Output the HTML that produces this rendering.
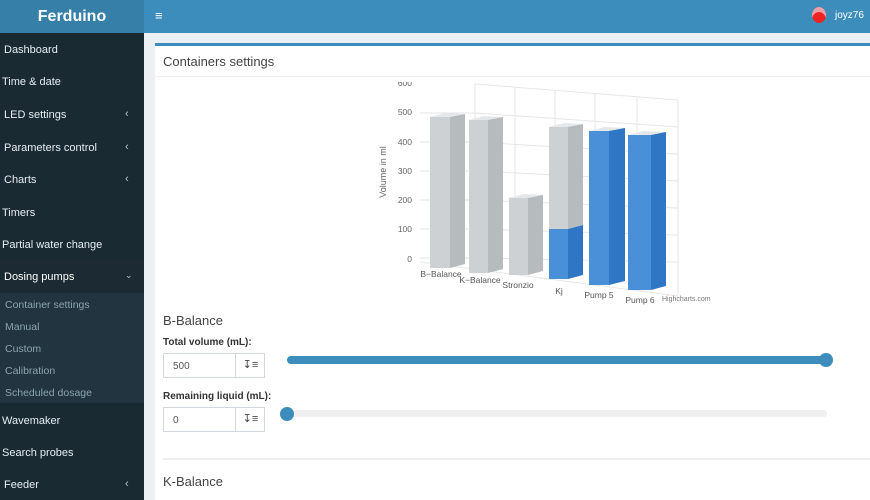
<!DOCTYPE html>
<html><head><meta charset="utf-8">
<style>
*{box-sizing:border-box;margin:0;padding:0}
body{width:870px;height:500px;overflow:hidden;font-family:"Liberation Sans",sans-serif;background:#ecf0f5;position:relative}
.logo{position:absolute;left:0;top:0;width:144px;height:33px;background:#367fa9;color:#fff;font-weight:bold;font-size:16px;text-align:center;line-height:33px}
.top{position:absolute;left:144px;top:0;right:0;height:33px;background:#3c8dbc;color:#fff}
.side{position:absolute;left:0;top:33px;width:144px;bottom:0;background:#1a2a33}
.it{position:absolute;left:4px;color:#e6eef2;font-size:11px}
.sub{position:absolute;left:5px;color:#8aa4af;font-size:10.5px}
.chev{position:absolute;left:125px;color:#b8c7ce;font-size:11px}
.box{position:absolute;left:155px;top:43px;width:715px;bottom:0;background:#fff;border-top:3px solid #3c8dbc}
.lbl{position:absolute;font-size:10px;font-weight:bold;color:#333}
.inp{position:absolute;left:163px;width:102px;height:25px;border:1px solid #d2d6de;font-size:10px;color:#555;padding:7px 9px}
.inp span{position:absolute;left:71px;top:-1px;width:30px;height:25px;border-left:1px solid #d2d6de;text-align:center;line-height:24px;font-size:11px;color:#444}
</style></head><body>
<div class="logo">Ferduino</div>
<div class="top"><div style="position:absolute;left:11px;top:8px;font-size:13px">&#8801;</div>
<div style="position:absolute;left:668px;top:7px;width:14px;height:16px;border-radius:50%;background:#e22;box-shadow:inset 0 5px 0 #e9a0a8"></div>
<div style="position:absolute;left:691px;top:10px;font-size:10px">joyz76</div></div>
<div class="side">
<div class="it" style="top:11px">Dashboard</div>
<div class="it" style="top:43px;left:2px">Time &amp; date</div>
<div class="it" style="top:76px">LED settings</div><div class="chev" style="top:75px">&#8249;</div>
<div class="it" style="top:109px">Parameters control</div><div class="chev" style="top:108px">&#8249;</div>
<div class="it" style="top:141px">Charts</div><div class="chev" style="top:140px">&#8249;</div>
<div class="it" style="top:174px;left:2px">Timers</div>
<div class="it" style="top:206px;left:2px">Partial water change</div>
<div style="position:absolute;left:0;top:227px;width:144px;height:33px;background:#1c2b33"></div>
<div class="it" style="top:238px;color:#fff">Dosing pumps</div><div class="chev" style="top:237px;font-size:9px">&#8964;</div>
<div style="position:absolute;left:0;top:260px;width:144px;height:110px;background:#223440"></div>
<div class="sub" style="top:266px">Container settings</div>
<div class="sub" style="top:288px">Manual</div>
<div class="sub" style="top:310px">Custom</div>
<div class="sub" style="top:332px">Calibration</div>
<div class="sub" style="top:354px">Scheduled dosage</div>
<div class="it" style="top:382px;left:2px">Wavemaker</div>
<div class="it" style="top:414px;left:2px">Search probes</div>
<div class="it" style="top:446px">Feeder</div><div class="chev" style="top:445px">&#8249;</div>
</div>
<div class="box">
<div style="position:absolute;left:8px;top:8px;font-size:13px;color:#444">Containers settings</div>
<div style="position:absolute;left:0;right:0;top:30px;border-top:1px solid #f0f0f0"></div>
</div>
<svg style="position:absolute;left:0;top:0" width="870" height="500" font-family="Liberation Sans,sans-serif">
<defs><clipPath id="c"><rect x="300" y="82" width="500" height="230"/></clipPath></defs>
<g clip-path="url(#c)">
<g stroke="#e6e6e6" stroke-width="1" fill="none">
<path d="M475 84 L678 100 M475 113 L678 127 M475 142 L678 154 M475 171 L678 181 M475 200 L678 208 M475 229 L678 235 M475 258 L678 262"/>
<path d="M475 84 V258 M515 87 V262 M555 91 V265 M595 94 V268 M637 97 V272 M678 100 V295"/>
<path d="M420 113 L475 113 M420 142 L475 142 M420 171 L475 171 M420 200 L475 200 M420 229 L475 229 M420 258 L475 258"/>
<path d="M420 262 L678 296"/>
</g>
<g font-size="8.5" fill="#666" text-anchor="end">
<text x="412" y="86">600</text><text x="412" y="115">500</text><text x="412" y="145">400</text><text x="412" y="174">300</text><text x="412" y="203">200</text><text x="412" y="232">100</text><text x="412" y="262">0</text>
</g>
</g>
<text transform="translate(386,172) rotate(-90)" font-size="9" fill="#666" text-anchor="middle">Volume in ml</text>
<g>
<polygon points="430,117 450,117 465,114 445,113" fill="#e4e8eb"/>
<rect x="430" y="117" width="20" height="151" fill="#cdd1d4"/>
<polygon points="450,117 465,114 465,264 450,268" fill="#b6bbbe"/>
<polygon points="469,120 488,120 503,117 484,116" fill="#e4e8eb"/>
<rect x="469" y="120" width="19" height="153" fill="#cdd1d4"/>
<polygon points="488,120 503,117 503,269 488,273" fill="#b6bbbe"/>
<polygon points="509,198 528,198 543,195 524,194" fill="#e4e8eb"/>
<rect x="509" y="198" width="19" height="77" fill="#cdd1d4"/>
<polygon points="528,198 543,195 543,271 528,275" fill="#b6bbbe"/>
<polygon points="549,127 568,127 583,124 564,123" fill="#e4e8eb"/>
<rect x="549" y="127" width="19" height="102" fill="#cdd1d4"/>
<polygon points="568,127 583,124 583,225 568,229" fill="#b6bbbe"/>
<rect x="549" y="229" width="19" height="50" fill="#4a90d9"/>
<polygon points="568,229 583,225 583,275 568,279" fill="#2f77c4"/>
<polygon points="589,131 609,131 625,128 604,127" fill="#e4e8eb"/>
<rect x="589" y="131" width="20" height="154" fill="#4a90d9"/>
<polygon points="609,131 625,128 625,281 609,285" fill="#2f77c4"/>
<polygon points="628,135 651,135 666,132 643,131" fill="#e4e8eb"/>
<rect x="628" y="135" width="23" height="155" fill="#4a90d9"/>
<polygon points="651,135 666,132 666,286 651,290" fill="#2f77c4"/>
</g>
<g font-size="8.5" fill="#555" text-anchor="middle">
<text x="441" y="277">B−Balance</text><text x="480" y="283">K−Balance</text><text x="518" y="288">Stronzio</text><text x="559" y="294">Kj</text><text x="599" y="298">Pump 5</text><text x="640" y="303">Pump 6</text>
</g>
<text x="662" y="301" font-size="7" fill="#777">Highcharts.com</text>
<rect x="287" y="356" width="540" height="8" rx="4" fill="#3c8dbc"/>
<circle cx="826" cy="360" r="7" fill="#3c8dbc"/>
<rect x="287" y="410" width="540" height="7" rx="3.5" fill="#f0f0f0"/>
<circle cx="287" cy="414" r="7" fill="#3c8dbc"/>
<line x1="163" y1="459" x2="870" y2="459" stroke="#f0f0f0" stroke-width="2"/>
</svg>
<div style="position:absolute;left:163px;top:313px;font-size:13px;color:#444">B-Balance</div>
<div class="lbl" style="left:163px;top:337px">Total volume (mL):</div>
<div class="inp" style="top:353px">500<span>&#8615;&#8801;</span></div>
<div class="lbl" style="left:163px;top:391px">Remaining liquid (mL):</div>
<div class="inp" style="top:407px">0<span>&#8615;&#8801;</span></div>
<div style="position:absolute;left:163px;top:474px;font-size:13px;color:#444">K-Balance</div>
</body></html>
